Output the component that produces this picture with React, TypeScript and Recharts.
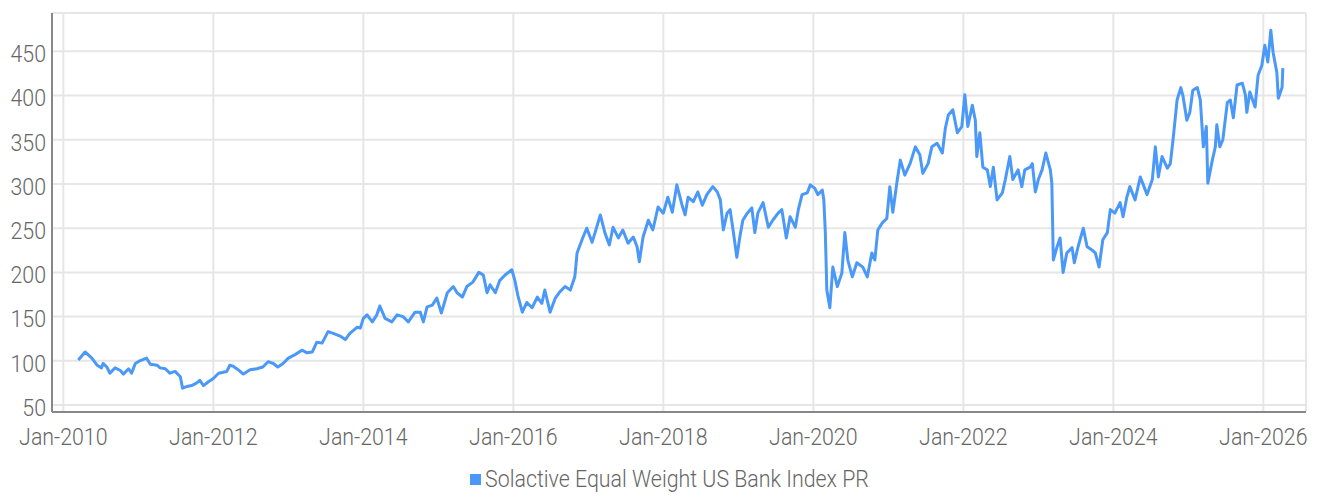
import { LineChart, Line, XAxis, YAxis, CartesianGrid, Legend } from 'recharts';

// index level, dates as decimal years
const dates = [
    2010.20, 2010.29, 2010.38, 2010.45, 2010.51, 2010.53, 2010.58, 2010.62, 2010.69, 2010.76,
    2010.80, 2010.87, 2010.91, 2010.96, 2011.02, 2011.11, 2011.16, 2011.25, 2011.29, 2011.36,
    2011.42, 2011.49, 2011.56, 2011.59, 2011.65, 2011.71, 2011.78, 2011.82, 2011.87, 2011.93,
    2012.00, 2012.07, 2012.18, 2012.22, 2012.26, 2012.33, 2012.40, 2012.49, 2012.58, 2012.66,
    2012.73, 2012.80, 2012.86, 2012.93, 2013.00, 2013.09, 2013.18, 2013.25, 2013.32, 2013.38,
    2013.45, 2013.53, 2013.60, 2013.69, 2013.76, 2013.82, 2013.92, 2013.96, 2014.00, 2014.05,
    2014.12, 2014.18, 2014.22, 2014.29, 2014.38, 2014.45, 2014.53, 2014.60, 2014.69, 2014.76,
    2014.80, 2014.85, 2014.92, 2014.98, 2015.04, 2015.12, 2015.20, 2015.25, 2015.32, 2015.38,
    2015.46, 2015.54, 2015.60, 2015.65, 2015.69, 2015.76, 2015.82, 2015.89, 2015.98, 2016.02,
    2016.06, 2016.12, 2016.18, 2016.25, 2016.32, 2016.38, 2016.42, 2016.49, 2016.56, 2016.62,
    2016.69, 2016.76, 2016.82, 2016.85, 2016.89, 2016.93, 2016.98, 2017.05, 2017.09, 2017.16,
    2017.22, 2017.28, 2017.33, 2017.40, 2017.46, 2017.53, 2017.60, 2017.65, 2017.68, 2017.73,
    2017.80, 2017.86, 2017.93, 2018.00, 2018.06, 2018.12, 2018.18, 2018.25, 2018.29, 2018.33,
    2018.40, 2018.46, 2018.52, 2018.58, 2018.66, 2018.72, 2018.76, 2018.80, 2018.85, 2018.89,
    2018.93, 2018.98, 2019.02, 2019.06, 2019.12, 2019.18, 2019.22, 2019.26, 2019.33, 2019.40,
    2019.46, 2019.53, 2019.58, 2019.64, 2019.69, 2019.76, 2019.80, 2019.85, 2019.92, 2019.96,
    2020.02, 2020.06, 2020.12, 2020.14, 2020.16, 2020.18, 2020.22, 2020.26, 2020.32, 2020.38,
    2020.42, 2020.46, 2020.52, 2020.58, 2020.66, 2020.72, 2020.78, 2020.82, 2020.86, 2020.92,
    2020.98, 2021.02, 2021.06, 2021.12, 2021.16, 2021.22, 2021.29, 2021.36, 2021.42, 2021.46,
    2021.53, 2021.58, 2021.65, 2021.72, 2021.76, 2021.80, 2021.86, 2021.92, 2021.98, 2022.02,
    2022.06, 2022.12, 2022.16, 2022.18, 2022.22, 2022.26, 2022.32, 2022.36, 2022.40, 2022.45,
    2022.52, 2022.56, 2022.62, 2022.66, 2022.73, 2022.78, 2022.82, 2022.89, 2022.92, 2022.96,
    2023.00, 2023.05, 2023.10, 2023.16, 2023.18, 2023.20, 2023.25, 2023.29, 2023.33, 2023.38,
    2023.45, 2023.48, 2023.53, 2023.60, 2023.65, 2023.72, 2023.76, 2023.81, 2023.86, 2023.92,
    2023.96, 2024.02, 2024.09, 2024.13, 2024.18, 2024.22, 2024.29, 2024.36, 2024.40, 2024.45,
    2024.52, 2024.56, 2024.60, 2024.65, 2024.72, 2024.76, 2024.80, 2024.85, 2024.90, 2024.93,
    2024.98, 2025.02, 2025.06, 2025.12, 2025.16, 2025.20, 2025.24, 2025.26, 2025.32, 2025.36,
    2025.38, 2025.42, 2025.46, 2025.52, 2025.56, 2025.60, 2025.65, 2025.72, 2025.76, 2025.78,
    2025.82, 2025.89, 2025.93, 2025.98, 2026.02, 2026.06, 2026.10, 2026.13, 2026.18, 2026.20,
    2026.25, 2026.26,
];

const levels = [
    101, 110, 103, 95, 92, 97, 93, 86, 92, 89,
    85, 91, 86, 97, 100, 103, 96, 95, 92, 91,
    86, 88, 82, 69, 71, 72, 75, 78, 72, 76,
    80, 86, 88, 95, 94, 90, 85, 90, 91, 93,
    99, 97, 93, 97, 103, 107, 112, 109, 110, 121,
    120, 133, 131, 128, 124, 131, 138, 137, 148, 152,
    144, 152, 162, 148, 144, 152, 150, 144, 155, 155,
    144, 161, 163, 171, 154, 177, 184, 177, 172, 184,
    189, 200, 197, 177, 186, 177, 191, 197, 203, 191,
    174, 155, 166, 160, 172, 165, 180, 155, 171, 178,
    184, 180, 195, 222, 231, 240, 250, 234, 245, 265,
    245, 231, 251, 239, 248, 233, 240, 229, 212, 240,
    259, 248, 274, 267, 285, 268, 299, 276, 265, 285,
    280, 291, 276, 288, 297, 291, 282, 248, 267, 271,
    248, 217, 240, 259, 267, 273, 245, 267, 279, 251,
    259, 267, 271, 239, 263, 251, 271, 288, 290, 299,
    295, 288, 293, 282, 245, 180, 160, 206, 184, 199,
    245, 214, 195, 211, 206, 195, 222, 214, 248, 256,
    261, 297, 268, 305, 327, 310, 323, 342, 333, 312,
    323, 342, 346, 335, 363, 378, 384, 358, 365, 401,
    365, 389, 372, 331, 358, 319, 316, 297, 319, 282,
    290, 305, 331, 305, 316, 297, 316, 319, 323, 291,
    305, 316, 335, 316, 301, 214, 229, 239, 200, 222,
    228, 211, 229, 250, 229, 225, 222, 206, 237, 245,
    271, 267, 279, 263, 285, 297, 282, 308, 299, 288,
    305, 342, 308, 331, 318, 323, 353, 395, 409, 399,
    372, 381, 406, 409, 395, 342, 365, 301, 327, 342,
    367, 342, 350, 392, 395, 375, 412, 414, 401, 381,
    404, 387, 423, 434, 457, 438, 474, 449, 426, 397,
    409, 431,
];

const yearTicks = [2010, 2012, 2014, 2016, 2018, 2020, 2022, 2024, 2026];
const levelTicks = [50, 100, 150, 200, 250, 300, 350, 400, 450];
const seriesName = 'Solactive Equal Weight US Bank Index PR';

const data = dates.map((t, i) => ({ t, level: levels[i] }));

const FONT = "Roboto, 'Liberation Sans', sans-serif";
const LINE_COLOR = '#4a98f7';
const TEXT_COLOR = '#666666';
const SQUEEZE = 0.89; // the original uses a condensed face

function XTick({ x, y, payload }: any) {
    return (
        <text
            transform={`translate(${x},${y}) scale(${SQUEEZE},1)`}
            textAnchor="middle"
            dy="0.71em"
            fill={TEXT_COLOR}
            fontFamily={FONT}
            fontWeight={300}
            fontSize={24}
        >
            {`Jan-${payload.value}`}
        </text>
    );
}

function YTick({ x, y, payload }: any) {
    return (
        <text
            transform={`translate(${x},${y}) scale(${SQUEEZE},1)`}
            textAnchor="end"
            dy="0.45em"
            fill={TEXT_COLOR}
            fontFamily={FONT}
            fontWeight={300}
            fontSize={24}
        >
            {payload.value}
        </text>
    );
}

function LegendContent() {
    return (
        <div style={{ display: 'flex', alignItems: 'center', height: 30, paddingLeft: 470 }}>
            <span
                style={{
                    display: 'inline-block',
                    width: 11,
                    height: 11,
                    background: LINE_COLOR,
                    marginRight: 4,
                }}
            />
            <span
                style={{
                    display: 'inline-block',
                    fontFamily: FONT,
                    fontWeight: 300,
                    fontSize: 24,
                    color: TEXT_COLOR,
                    whiteSpace: 'nowrap',
                    transform: `scaleX(${SQUEEZE})`,
                    transformOrigin: 'left center',
                }}
            >
                {seriesName}
            </span>
        </div>
    );
}

export default function App() {
    return (
        <div style={{ position: 'absolute', left: 0, top: 0, width: 1317, height: 496, background: '#fff' }}>
            <LineChart
                width={1317}
                height={496}
                data={data}
                margin={{ top: 13, right: 11, bottom: 56, left: 0 }}
            >
                <CartesianGrid stroke="#e6e6e6" strokeWidth={2} />
                <XAxis
                    dataKey="t"
                    type="number"
                    domain={[2009.849, 2026.569]}
                    allowDataOverflow
                    ticks={yearTicks}
                    interval={0}
                    tick={<XTick />}
                    tickLine={false}
                    tickSize={0}
                    tickMargin={16}
                    axisLine={{ stroke: '#888888', strokeWidth: 2 }}
                    height={28}
                />
                <YAxis
                    type="number"
                    domain={[42.1, 493.4]}
                    allowDataOverflow
                    ticks={levelTicks}
                    interval={0}
                    width={52}
                    tick={<YTick />}
                    tickLine={false}
                    tickSize={0}
                    tickMargin={6}
                    axisLine={{ stroke: '#888888', strokeWidth: 2 }}
                />
                <Legend
                    verticalAlign="middle"
                    content={<LegendContent />}
                    wrapperStyle={{ top: 464, left: 0, width: 1317, height: 30 }}
                />
                <Line
                    type="linear"
                    dataKey="level"
                    name={seriesName}
                    stroke={LINE_COLOR}
                    strokeWidth={3}
                    strokeLinejoin="round"
                    dot={false}
                    isAnimationActive={false}
                />
            </LineChart>
        </div>
    );
}
